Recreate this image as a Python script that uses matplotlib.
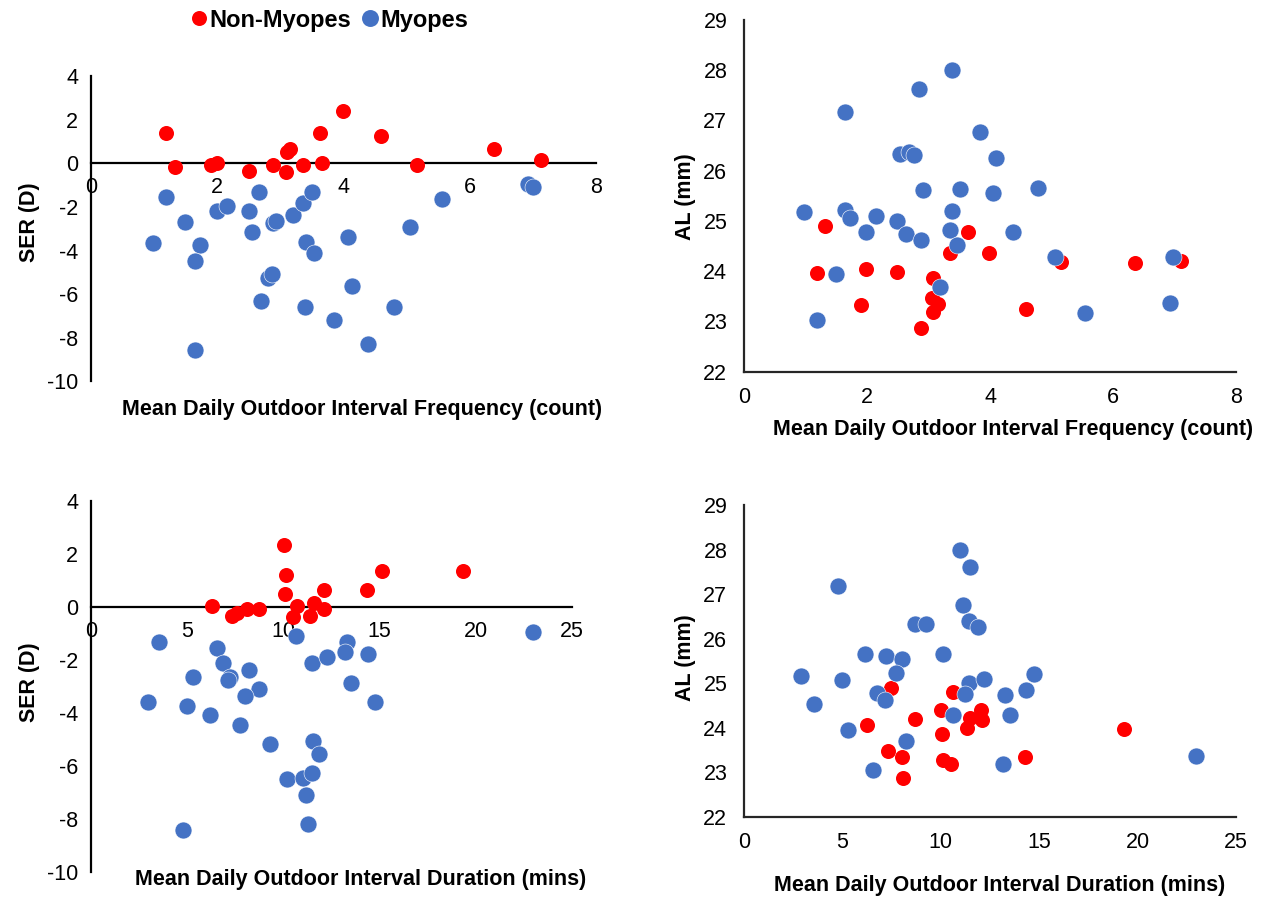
import matplotlib.pyplot as plt
from matplotlib.lines import Line2D

plt.rcParams['font.family'] = ['Liberation Sans', 'DejaVu Sans']
plt.rcParams['axes.unicode_minus'] = False

RED = '#FF0000'
BLUE = '#4472C4'
W, H = 1264, 899

# --- top left: SER vs interval frequency ---
nm_freq_a = [1.19, 1.34, 1.91, 2.00, 2.50, 2.89, 3.09, 3.11, 3.16, 3.37, 3.63, 3.67, 4.00, 4.60, 5.17, 6.39, 7.14]
nm_ser_a = [1.41, -0.19, -0.08, 0.03, -0.34, -0.08, -0.38, 0.53, 0.64, -0.08, 1.41, 0.03, 2.40, 1.25, -0.08, 0.65, 0.15]
my_freq_a = [1.19, 1.49, 0.99, 1.73, 1.66, 1.66, 2.00, 2.16, 2.67, 2.50, 2.55, 2.88, 2.93, 3.21, 3.37, 3.50,
             3.41, 3.54, 2.81, 2.87, 2.70, 3.40, 3.86, 4.07, 4.14, 4.40, 4.80, 5.06, 5.57, 6.93, 7.00]
my_ser_a = [-1.53, -2.68, -3.64, -3.75, -4.48, -8.57, -2.18, -1.94, -1.33, -2.18, -3.14, -2.76, -2.65, -2.38, -1.81, -1.33,
            -3.62, -4.13, -5.25, -5.08, -6.31, -6.59, -7.19, -3.39, -5.62, -8.30, -6.60, -2.91, -1.65, -0.94, -1.07]

# --- top right: AL vs interval frequency ---
nm_freq_b = [1.32, 1.18, 1.99, 2.48, 1.90, 3.65, 3.35, 3.99, 3.08, 3.05, 3.15, 3.08, 2.88, 5.15, 6.36, 7.11, 4.58]
nm_al_b = [24.89, 23.96, 24.04, 23.99, 23.33, 24.78, 24.37, 24.37, 23.86, 23.47, 23.34, 23.18, 22.86, 24.19, 24.16, 24.21, 23.25]
my_freq_b = [3.38, 2.85, 1.65, 3.84, 2.53, 2.69, 2.77, 4.10, 2.91, 3.52, 4.05, 0.98, 1.65, 1.73, 2.14, 2.48,
             3.39, 1.98, 2.64, 2.88, 3.35, 3.47, 1.49, 3.19, 1.18, 4.78, 4.38, 5.06, 5.55, 6.98, 6.92]
my_al_b = [28.00, 27.62, 27.17, 26.78, 26.34, 26.38, 26.31, 26.26, 25.61, 25.63, 25.56, 25.18, 25.22, 25.06, 25.09, 25.00,
           25.20, 24.78, 24.74, 24.62, 24.82, 24.52, 23.94, 23.68, 23.03, 25.65, 24.78, 24.29, 23.17, 24.28, 23.36]

# --- bottom left: SER vs interval duration ---
nm_dur_c = [10.04, 10.16, 10.09, 6.31, 7.34, 7.58, 8.10, 8.74, 10.70, 10.49, 11.61, 12.11, 12.10, 11.40, 14.33, 15.12, 19.31]
nm_ser_c = [2.33, 1.19, 0.48, 0.03, -0.35, -0.23, -0.10, -0.10, 0.03, -0.38, 0.15, 0.63, -0.10, -0.35, 0.63, 1.34, 1.34]
my_dur_c = [3.54, 2.97, 5.33, 4.98, 4.81, 6.57, 6.85, 7.22, 7.14, 8.22, 8.75, 8.03, 6.17, 7.74, 9.29, 10.66,
            11.51, 12.28, 13.32, 13.20, 11.53, 11.87, 10.18, 11.04, 11.47, 11.18, 11.27, 14.38, 13.52, 14.78, 22.98]
my_ser_c = [-1.32, -3.61, -2.65, -3.74, -8.43, -1.57, -2.14, -2.65, -2.77, -2.40, -3.11, -3.37, -4.10, -4.47, -5.19, -1.10,
            -2.14, -1.91, -1.32, -1.70, -5.06, -5.56, -6.51, -6.47, -6.26, -7.11, -8.20, -1.79, -2.89, -3.61, -0.95]

# --- bottom right: AL vs interval duration ---
nm_dur_d = [7.47, 10.60, 9.99, 8.69, 6.25, 10.06, 11.48, 12.04, 12.11, 11.35, 7.30, 8.01, 10.13, 10.50, 8.06, 19.29, 14.28]
nm_al_d = [24.89, 24.79, 24.40, 24.20, 24.05, 23.86, 24.22, 24.40, 24.17, 23.99, 23.48, 23.35, 23.27, 23.18, 22.88, 23.96, 23.33]
my_dur_d = [10.98, 11.48, 4.79, 11.14, 8.69, 9.26, 11.43, 11.87, 6.15, 7.22, 8.01, 10.13, 2.91, 4.96, 7.71, 11.45,
            11.21, 12.21, 6.74, 7.16, 3.54, 10.62, 13.26, 5.27, 8.22, 6.54, 13.18, 14.75, 14.35, 13.52, 22.97]
my_al_d = [27.99, 27.61, 27.18, 26.76, 26.33, 26.33, 26.40, 26.26, 25.65, 25.60, 25.55, 25.65, 25.17, 25.07, 25.22, 25.01,
           24.76, 25.09, 24.77, 24.62, 24.53, 24.28, 24.73, 23.95, 23.70, 23.05, 23.18, 25.21, 24.84, 24.29, 23.37]


def box(x0, y_top, x1, y_bot):
    # pixel box -> figure fraction rect
    return [x0 / W, 1 - y_bot / H, (x1 - x0) / W, (y_bot - y_top) / H]


def ftext(x, y, s, **kw):
    fig.text(x / W, 1 - y / H, s, ha='center', va='center', fontsize=15.5, fontweight='bold', **kw)


def dots(ax, xn, yn, xm, ym):
    ax.scatter(xn, yn, s=117, color=RED, linewidths=0, zorder=3, clip_on=False)
    ax.scatter(xm, ym, s=149, color=BLUE, edgecolors='white', linewidths=0.4, zorder=4, clip_on=False)


def ser_axes(ax, xmax, xstep):
    ax.set_xlim(0, xmax)
    ax.set_ylim(-10, 4)
    ax.set_xticks(range(0, xmax + 1, xstep))
    ax.set_yticks(range(-10, 5, 2))
    for s in ['top', 'right']:
        ax.spines[s].set_visible(False)
    ax.spines['bottom'].set_position(('data', 0))
    for s in ['left', 'bottom']:
        ax.spines[s].set_linewidth(1.6)
        ax.spines[s].set_color('black')
    ax.tick_params(axis='x', length=0, labelsize=15.5, pad=10)
    ax.tick_params(axis='y', length=0, labelsize=15.5, pad=9)


def al_axes(ax, xmax, xstep):
    ax.set_xlim(0, xmax)
    ax.set_ylim(22, 29)
    ax.set_xticks(range(0, xmax + 1, xstep))
    ax.set_yticks(range(22, 30))
    for s in ['top', 'right']:
        ax.spines[s].set_visible(False)
    for s in ['left', 'bottom']:
        ax.spines[s].set_linewidth(1.6)
        ax.spines[s].set_color('#262626')
    ax.tick_params(axis='x', length=0, labelsize=15.5, pad=11)
    ax.tick_params(axis='y', length=0, labelsize=15.5, pad=12)


fig = plt.figure(figsize=(W / 100, H / 100), dpi=100)

ax1 = fig.add_axes(box(90.7, 76.1, 595.7, 381.3))
dots(ax1, nm_freq_a, nm_ser_a, my_freq_a, my_ser_a)
ser_axes(ax1, 8, 2)

ax2 = fig.add_axes(box(744, 20, 1236, 371.7))
dots(ax2, nm_freq_b, nm_al_b, my_freq_b, my_al_b)
al_axes(ax2, 8, 2)

ax3 = fig.add_axes(box(90.7, 500.7, 572.3, 871.7))
dots(ax3, nm_dur_c, nm_ser_c, my_dur_c, my_ser_c)
ser_axes(ax3, 25, 5)

ax4 = fig.add_axes(box(744, 505, 1236, 816.7))
dots(ax4, nm_dur_d, nm_al_d, my_dur_d, my_al_d)
al_axes(ax4, 25, 5)

ftext(362, 410, 'Mean Daily Outdoor Interval Frequency (count)')
ftext(30, 222, 'SER (D)', rotation=90)
ftext(1013, 430, 'Mean Daily Outdoor Interval Frequency (count)')
ftext(685, 197, 'AL (mm)', rotation=90)
ftext(361, 880, 'Mean Daily Outdoor Interval Duration (mins)')
ftext(30, 682, 'SER (D)', rotation=90)
ftext(1000, 886, 'Mean Daily Outdoor Interval Duration (mins)')
ftext(685, 658, 'AL (mm)', rotation=90)

handles = [Line2D([], [], ls='', marker='o', ms=10.8, color=RED, mew=0),
           Line2D([], [], ls='', marker='o', ms=12.2, color=BLUE, mew=0)]
fig.legend(handles, ['Non-Myopes', 'Myopes'], loc='center', bbox_to_anchor=(330 / W, 1 - 20 / H),
           ncol=2, frameon=False, prop={'size': 17, 'weight': 'bold'},
           handlelength=0.6, handletextpad=0.15, columnspacing=0.5, borderaxespad=0)

fig.savefig('out.png', dpi=100)
